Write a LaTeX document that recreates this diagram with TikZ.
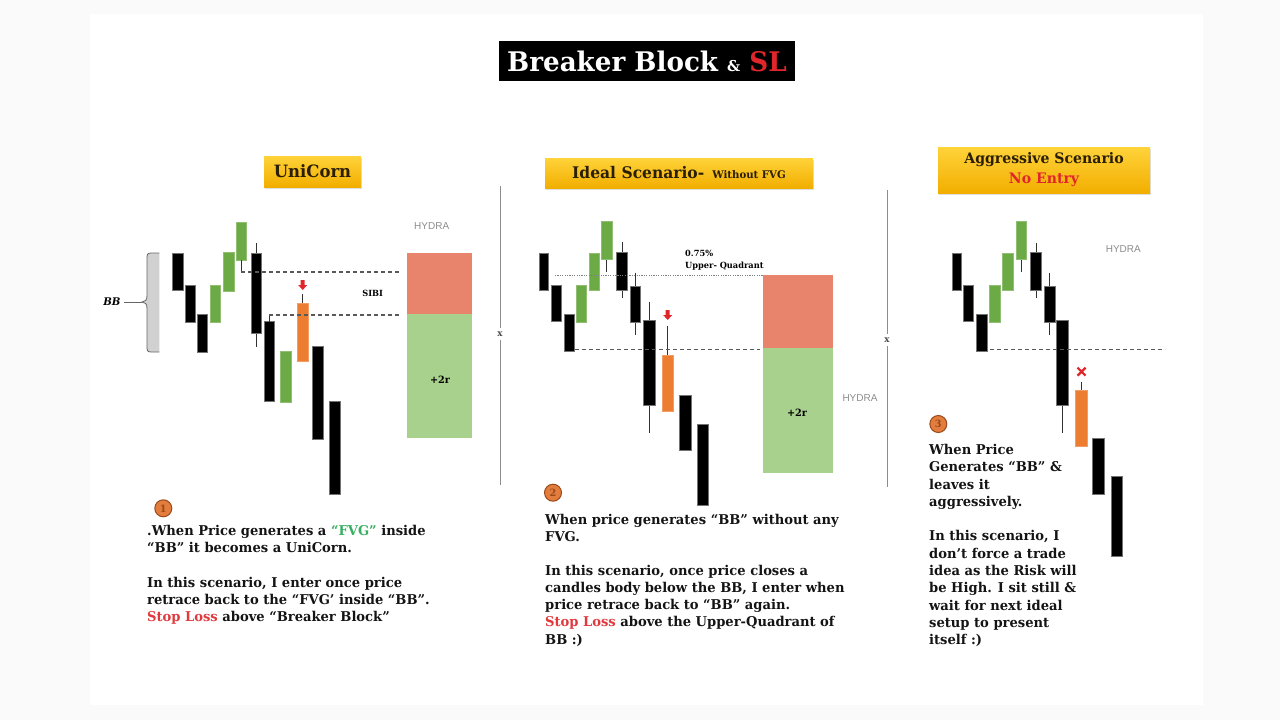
\documentclass[tikz,border=0pt]{standalone}
\usepackage{fontspec}
\setmainfont{DejaVu Serif}[FakeStretch=0.97]
\newfontfamily\hydrafont{Liberation Sans}
\usetikzlibrary{positioning, shadows}

\definecolor{pagebg}{HTML}{FAFAFA}
\definecolor{bullgreen}{HTML}{6BAA45}
\definecolor{entryorange}{HTML}{ED7D31}
\definecolor{riskred}{HTML}{E8836C}
\definecolor{rewardgreen}{HTML}{A9D18E}
\definecolor{tagtop}{HTML}{FFD33A}
\definecolor{tagbottom}{HTML}{F2AE00}
\definecolor{tagtext}{HTML}{2A1E05}
\definecolor{alertred}{HTML}{E0262B}
\definecolor{fvggreen}{HTML}{35B060}
\definecolor{stopred}{HTML}{E0393E}
\definecolor{coinorange}{HTML}{E27D3E}
\definecolor{coinedge}{HTML}{9A4A1A}

\begin{document}
\begin{tikzpicture}[x=1pt, y=-1pt,
  bear/.style={fill=black, draw=black!55, line width=0.5pt},
  bull/.style={fill=bullgreen, draw=bullgreen!75!white, line width=0.5pt},
  entry/.style={fill=entryorange, draw=entryorange!75!white, line width=0.5pt},
  wick/.style={draw=black!80, line width=1pt},
  level/.style={draw=black!65, line width=1.6pt, dash pattern=on 4pt off 3pt},
  quadline/.style={draw=black!50, line width=0.8pt, dash pattern=on 1.2pt off 1.2pt},
  divider/.style={draw=black!45, line width=0.8pt},
  tag/.style={top color=tagtop, bottom color=tagbottom, text=tagtext, inner sep=0pt,
    drop shadow={opacity=0.25, shadow xshift=1pt, shadow yshift=-1.5pt}},
  note/.style={align=left, anchor=north west, inner sep=0pt, text=black!92,
    font=\bfseries\fontsize{13.5}{17.3}\selectfont},
  coin/.style={circle, fill=coinorange, draw=coinedge, line width=1pt, minimum size=17pt,
    inner sep=0pt, text=coinedge, font=\bfseries\fontsize{10}{10}\selectfont},
  hydra/.style={text=black!45, font=\hydrafont\fontsize{10}{10}\selectfont},
  small label/.style={font=\bfseries\fontsize{8.5}{10}\selectfont, inner sep=0pt},
  rr/.style={font=\bfseries\fontsize{10}{10}\selectfont}]
  \useasboundingbox (0,0) rectangle (1280,720);
  \fill[pagebg] (0,0) rectangle (1280,720);
  \fill[white] (90,14) rectangle (1203,705);

  \node[fill=black, text=white, minimum width=296pt, minimum height=40pt, inner sep=0pt,
    font=\bfseries\fontsize{27}{27}\selectfont] (title) at (647,61)
    {Breaker Block {\fontsize{15}{15}\selectfont\&} {\color{alertred}SL}};

  \node[tag, minimum width=97pt, minimum height=31pt, font=\bfseries\fontsize{17}{17}\selectfont] (tagUni) at (312.5,171.5) {UniCorn};
  \node[tag, minimum width=268pt, minimum height=30pt, font=\bfseries\fontsize{16}{16}\selectfont] (tagIdeal) at (679,173)
    {Ideal Scenario-\hspace{8pt}{\fontsize{10.5}{10.5}\selectfont Without FVG}};
  \node[tag, minimum width=212pt, minimum height=46pt, align=center, font=\bfseries\fontsize{14.5}{20}\selectfont] (tagAggr) at (1044,170)
    {Aggressive Scenario\\{\color{alertred}No Entry}};

  \node[font=\bfseries\fontsize{9}{9}\selectfont, text=black!70] (markA) at (500,334) {x};
  \draw[divider] (500,186) -- (markA);
  \draw[divider] (markA) -- (500,485);
  \node[font=\bfseries\fontsize{9}{9}\selectfont, text=black!70] (markB) at (887,340) {x};
  \draw[divider] (887,190) -- (markB);
  \draw[divider] (markB) -- (887,487);

  % UniCorn
  \fill[black!18] (159.3,253) -- (151,253) .. controls (147,253) and (147,255) .. (147,259) -- (147,296)
    .. controls (147,300) and (145,302) .. (142,302) .. controls (145,302) and (147,304) .. (147,308) -- (147,346)
    .. controls (147,350) and (147,352) .. (151,352) -- (159.3,352) -- cycle;
  \draw[black!60, line width=0.8pt] (159.3,253) -- (151,253) .. controls (147,253) and (147,255) .. (147,259) -- (147,296)
    .. controls (147,300) and (145,302) .. (142,302) .. controls (145,302) and (147,304) .. (147,308) -- (147,346)
    .. controls (147,350) and (147,352) .. (151,352) -- (159.3,352);
  \node[font=\bfseries\itshape\fontsize{10.5}{10.5}\selectfont] (bbLabel) at (112,302) {BB};
  \coordinate (bbTip) at (142,302);
  \draw[black!60, line width=0.8pt] (bbLabel) -- (bbTip);

  \draw[bear] (172.7,253) rectangle (183.3,290);
  \draw[bear] (185.7,285) rectangle (195,322);
  \draw[bear] (197,314) rectangle (207,352);
  \draw[bull] (210.7,285) rectangle (220.7,322.7);
  \draw[bull] (223,252.7) rectangle (234,291.7);
  \draw[bull] (236,222.7) rectangle (246.7,260);
  \draw[wick] (256.7,243) -- (256.7,346.7);
  \draw[bear] (251.7,253) rectangle (261.7,333);
  \draw[bear] (264,321.7) rectangle (274,401.7);
  \draw[bull] (280.7,351.7) rectangle (291.7,402.7);
  \draw[wick] (302.7,294) -- (302.7,303);
  \draw[entry] (297.3,303) rectangle (308.3,361.7);
  \draw[bear] (312.7,346.7) rectangle (323.3,439.3);
  \draw[bear] (329.3,401.7) rectangle (340.7,494);
  \fill[alertred] (302.7,280) ++(-2,0) -- ++(4,0) -- ++(0,5) -- ++(2.5,0) -- ++(-4.5,5) -- ++(-4.5,-5) -- ++(2.5,0) -- cycle;
  \draw[wick] (241.3,260) -- (241.3,271.7);
  \draw[level] (241.3,271.7) -- (400,271.7);
  \draw[wick] (269,322) -- (269,315);
  \draw[level] (269,315) -- (401.7,315);
  \node[small label] (sibi) at (372.7,293.3) {SIBI};
  \fill[riskred] (407.3,253.3) rectangle (472.3,314);
  \fill[rewardgreen] (407.3,314) rectangle (472.3,438.3);
  \node[rr] (rrUni) at (440,379.3) {+2r};
  \node[hydra] (hydraUni) at (431.7,226) {HYDRA};

  \node[coin] (coinUni) at (163.3,508.3) {1};
  \node[note] (noteUni) at (147,525) {.When Price generates a {\color{fvggreen}“FVG”} inside\\
    “BB” it becomes a UniCorn.\\[17.3pt]
    In this scenario, I enter once price\\
    retrace back to the “FVG’ inside “BB”.\\
    {\color{stopred}Stop Loss} above “Breaker Block”};

  % Ideal
  \draw[bear] (539,253.3) rectangle (548.3,290);
  \draw[bear] (551.7,285) rectangle (561,321.7);
  \draw[bear] (564.3,314) rectangle (574,351.7);
  \draw[bull] (576.7,285) rectangle (586,322.7);
  \draw[bull] (589,253) rectangle (599.3,290.7);
  \draw[wick] (606.7,259) -- (606.7,271.7);
  \draw[bull] (601.7,221.7) rectangle (612.3,259.3);
  \draw[wick] (622,241.7) -- (622,298.3);
  \draw[bear] (616.7,252.7) rectangle (627.3,290);
  \draw[wick] (635,272.7) -- (635,335);
  \draw[bear] (630,286.7) rectangle (640,322.7);
  \draw[wick] (649,301.7) -- (649,432.7);
  \draw[bear] (643.3,320) rectangle (655,405);
  \draw[wick] (667.7,326) -- (667.7,355);
  \draw[entry] (662.3,355) rectangle (673.3,411.7);
  \draw[bear] (679.3,395) rectangle (691.7,450);
  \draw[bear] (697.7,424) rectangle (708.3,505);
  \fill[alertred] (667.7,310) ++(-2,0) -- ++(4,0) -- ++(0,5) -- ++(2.5,0) -- ++(-4.5,5) -- ++(-4.5,-5) -- ++(2.5,0) -- cycle;
  \draw[quadline] (555,275) -- (763,275);
  \draw[level] (575,349.3) -- (760,349.3);
  \node[small label, anchor=west] (quadPct) at (685,253.3) {0.75\%};
  \node[small label, anchor=west] (quadName) at (685,266) {Upper- Quadrant};
  \fill[riskred] (763.3,275) rectangle (832.7,348.3);
  \fill[rewardgreen] (763.3,348.3) rectangle (832.7,472.7);
  \node[rr] (rrIdeal) at (797,412.7) {+2r};
  \node[hydra] (hydraIdeal) at (860,398.3) {HYDRA};

  \node[coin] (coinIdeal) at (553,492.7) {2};
  \node[note] (noteIdeal) at (545,514) {When price generates “BB” without any\\
    FVG.\\[16pt]
    In this scenario, once price closes a\\
    candles body below the BB, I enter when\\
    price retrace back to “BB” again.\\
    {\color{stopred}Stop Loss} above the Upper-Quadrant of\\
    BB :)};

  % Aggressive
  \draw[bear] (952.7,253.3) rectangle (961.7,290);
  \draw[bear] (963.3,285) rectangle (973.3,321.7);
  \draw[bear] (976.7,314) rectangle (987.3,351.7);
  \draw[bull] (989.3,285) rectangle (1000.7,322.7);
  \draw[bull] (1002.7,253.3) rectangle (1013.3,290.7);
  \draw[wick] (1021,259) -- (1021,271.7);
  \draw[bull] (1016,221.7) rectangle (1026.7,259.3);
  \draw[wick] (1036,242.7) -- (1036,298.3);
  \draw[bear] (1030.7,252.7) rectangle (1041.7,290);
  \draw[wick] (1049.5,272.7) -- (1049.5,335);
  \draw[bear] (1044,286) rectangle (1055,322.7);
  \draw[wick] (1062.5,320) -- (1062.5,432.7);
  \draw[bear] (1056.7,320) rectangle (1068.3,405);
  \draw[wick] (1081.5,381.7) -- (1081.5,390.7);
  \draw[entry] (1075.7,390.7) rectangle (1087.3,446.7);
  \draw[bear] (1092.7,438.3) rectangle (1104,494);
  \draw[bear] (1111,476.7) rectangle (1122.3,556.7);
  \draw[alertred, line width=2.2pt] (1077.5,367.7) -- (1085.5,375.7) (1077.5,375.7) -- (1085.5,367.7);
  \draw[level] (990,349.3) -- (1165,349.3);
  \node[hydra] (hydraAggr) at (1123.3,249.3) {HYDRA};

  \node[coin] (coinAggr) at (938.3,424) {3};
  \node[note] (noteAggr) at (929,444) {When Price\\
    Generates “BB” \&\\
    leaves it\\
    aggressively.\\[17.3pt]
    In this scenario, I\\
    don’t force a trade\\
    idea as the Risk will\\
    be High. I sit still \&\\
    wait for next ideal\\
    setup to present\\
    itself :)};
\end{tikzpicture}
\end{document}
